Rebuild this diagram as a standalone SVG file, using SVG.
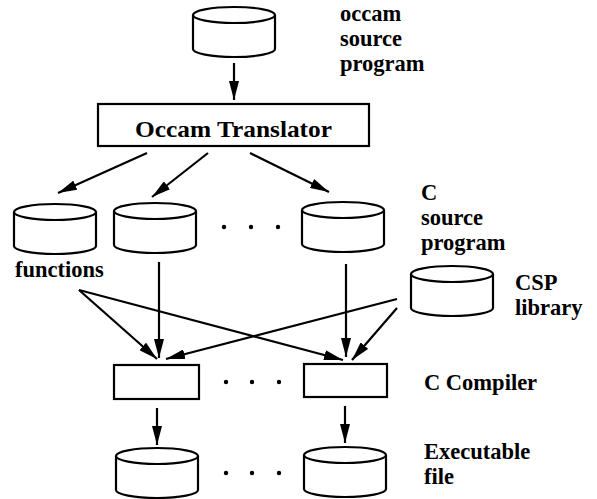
<svg xmlns="http://www.w3.org/2000/svg" width="597" height="499" viewBox="0 0 597 499">
  <style>
    .shape { fill: #ffffff; stroke: #000000; stroke-width: 2.2; }
    .edge { fill: none; stroke: #000000; stroke-width: 2.2; marker-end: url(#head); }
    .dot { fill: #000000; }
    text { font-family: "Liberation Serif", "Times New Roman", serif; font-weight: bold; font-size: 22.5px; fill: #000000; }
  </style>
  <defs>
    <marker id="head" markerUnits="userSpaceOnUse" markerWidth="19" markerHeight="10" refX="19" refY="5" orient="auto">
      <path d="M0,0 L19,5 L0,10 z" fill="#000000"/>
    </marker>
    <!-- disk-store cylinder, 82 wide and 50 tall, origin at the top-left corner -->
    <g id="cyl">
      <path class="shape" d="M0,8 L0,42 A41,8 0 0 0 82,42 L82,8"/>
      <ellipse class="shape" cx="41" cy="8" rx="41" ry="8"/>
    </g>
  </defs>

  <!-- occam source program -->
  <g id="occam-source">
    <use href="#cyl" x="193" y="7"/>
    <text x="340" y="20.5">occam</text>
    <text x="340" y="45.5">source</text>
    <text x="340" y="70.5">program</text>
  </g>

  <!-- translator -->
  <g id="translator">
    <rect class="shape" x="98" y="104" width="271" height="42"/>
    <text x="135" y="137" textLength="197" lengthAdjust="spacingAndGlyphs" font-size="24">Occam Translator</text>
  </g>

  <!-- generated C sources -->
  <g id="c-functions">
    <use href="#cyl" x="14" y="204"/>
    <text x="15" y="277">functions</text>
  </g>
  <g id="c-source-1">
    <use href="#cyl" x="114" y="203"/>
  </g>
  <g id="c-source-n">
    <use href="#cyl" x="302" y="202"/>
    <text x="421" y="200">C</text>
    <text x="421" y="225">source</text>
    <text x="421" y="250">program</text>
  </g>
  <g id="c-source-dots">
    <circle class="dot" cx="224" cy="227" r="2.2"/>
    <circle class="dot" cx="251" cy="227" r="2.2"/>
    <circle class="dot" cx="278" cy="227" r="2.2"/>
  </g>

  <!-- runtime library -->
  <g id="csp-library">
    <use href="#cyl" x="411" y="266"/>
    <text x="515" y="290">CSP</text>
    <text x="515" y="315">library</text>
  </g>

  <!-- compilers -->
  <g id="compiler-1">
    <rect class="shape" x="114" y="365" width="85" height="34"/>
  </g>
  <g id="compiler-n">
    <rect class="shape" x="304" y="364" width="83" height="33"/>
    <text x="424" y="390">C Compiler</text>
  </g>
  <g id="compiler-dots">
    <circle class="dot" cx="226" cy="382" r="2.2"/>
    <circle class="dot" cx="252" cy="382" r="2.2"/>
    <circle class="dot" cx="279" cy="382" r="2.2"/>
  </g>

  <!-- executables -->
  <g id="exec-1">
    <use href="#cyl" x="116" y="448"/>
  </g>
  <g id="exec-n">
    <use href="#cyl" x="304" y="447"/>
    <text x="424" y="459">Executable</text>
    <text x="424" y="484">file</text>
  </g>
  <g id="exec-dots">
    <circle class="dot" cx="226" cy="473" r="2.2"/>
    <circle class="dot" cx="252" cy="473" r="2.2"/>
    <circle class="dot" cx="279" cy="473" r="2.2"/>
  </g>

  <!-- connectors -->
  <g id="connectors">
    <line class="edge" x1="234" y1="63" x2="234" y2="100"/>
    <line class="edge" x1="147" y1="153" x2="58" y2="193"/>
    <line class="edge" x1="208" y1="153" x2="152" y2="197"/>
    <line class="edge" x1="250" y1="153" x2="329" y2="192"/>
    <line class="edge" x1="159" y1="262" x2="159" y2="358"/>
    <line class="edge" x1="346" y1="264" x2="346" y2="357"/>
    <line class="edge" x1="79" y1="290" x2="157" y2="359"/>
    <line class="edge" x1="79" y1="290" x2="343" y2="360"/>
    <line class="edge" x1="397" y1="299" x2="166" y2="359"/>
    <line class="edge" x1="397" y1="308" x2="352" y2="360"/>
    <line class="edge" x1="157" y1="408" x2="157" y2="445"/>
    <line class="edge" x1="345" y1="406" x2="345" y2="443"/>
  </g>
</svg>
